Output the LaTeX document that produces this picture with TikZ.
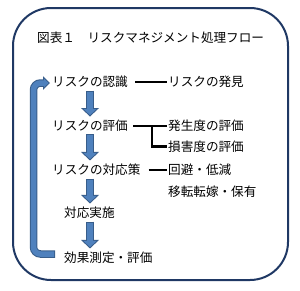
\documentclass[tikz,border=0pt]{standalone}
\usepackage{fontspec}
\newfontfamily\cjk{Noto Sans CJK JP}
\usepackage{tikz}
\usetikzlibrary{arrows.meta,calc}
\usepackage{xcolor}
\definecolor{framenavy}{RGB}{31,56,100}
\definecolor{arrfill}{RGB}{79,129,189}
\definecolor{arrline}{RGB}{56,93,138}
\tikzset{
  txt/.style={font=\cjk\fontsize{12.6pt}{15pt}\selectfont,inner sep=0pt,anchor=west},
  conn/.style={draw=black,line width=2.2pt,shorten >=1pt},
  blkout/.style={draw=arrline,line width=8.5pt,-{Triangle[width=18pt,length=8.5pt,line width=0pt]},shorten <=2.5pt,shorten >=3.5pt},
  blkin/.style={draw=arrfill,line width=6.5pt,-{Triangle[width=13pt,length=6.1pt,line width=0pt]},shorten <=3.5pt,shorten >=4.9pt},
  loopout/.style={draw=arrline,line width=7.5pt,rounded corners=7pt,-{Triangle[width=13.5pt,length=7pt,line width=0pt]}},
  loopin/.style={draw=arrfill,line width=5.5pt,rounded corners=7pt,-{Triangle[width=8.8pt,length=4.6pt,line width=0pt]},shorten <=1pt,shorten >=1.44pt},
}
\begin{document}
\begin{tikzpicture}[x=1pt,y=-1pt]
        \useasboundingbox (0,0) rectangle (300,290);
        % frame
        \draw[framenavy,line width=2pt,rounded corners=38pt] (13,8) rectangle (288,280);

        \node[txt] (title) at (37,38) {図表１　リスクマネジメント処理フロー};

        % left column
        \node[txt] (ninshiki) at (52,82) {リスクの認識};
        \node[txt] (hyoka) at (52,126) {リスクの評価};
        \node[txt] (taiosaku) at (52,170) {リスクの対応策};
        \node[txt] (jisshi) at (64,213) {対応実施};
        \node[txt] (kouka) at (64,258) {効果測定・評価};

        % right column
        \node[txt] (hakken) at (168,82) {リスクの発見};
        \node[txt] (hassei) at (168,126) {発生度の評価};
        \node[txt] (songai) at (168,146.5) {損害度の評価};
        \node[txt] (kaihi) at (168,170) {回避・低減};
        \node[txt] (iten) at (168,192) {移転転嫁・保有};

        % black links
        \draw[conn] ([xshift=7pt]ninshiki.east) -- (hakken.west);
        \draw[conn] ([xshift=5pt]hyoka.east) -- (hassei.west);
        \coordinate (brk) at ($(hyoka.east)!0.6!(hassei.west)$);
        \draw[conn] (brk) |- (songai.west);
        \draw[conn] ([xshift=8pt]taiosaku.east) -- (kaihi.west);

        % block arrows down
        \draw[blkout] (ninshiki.south) -- (hyoka.north);
        \draw[blkin] (ninshiki.south) -- (hyoka.north);
        \draw[blkout] (hyoka.south) -- (hyoka.south |- taiosaku.north);
        \draw[blkin] (hyoka.south) -- (hyoka.south |- taiosaku.north);
        \draw[blkout] (taiosaku.south -| hyoka.south) -- (hyoka.south |- jisshi.north);
        \draw[blkin] (taiosaku.south -| hyoka.south) -- (hyoka.south |- jisshi.north);
        \draw[blkout] (hyoka.south |- jisshi.south) -- (hyoka.south |- kouka.north);
        \draw[blkin] (hyoka.south |- jisshi.south) -- (hyoka.south |- kouka.north);

        % feedback loop
        \draw[loopout] ([xshift=-9pt,yshift=4pt]kouka.west) -| ([xshift=-18.5pt,yshift=-1pt]ninshiki.west) -- ([xshift=-2pt,yshift=-1pt]ninshiki.west);
        \draw[loopin] ([xshift=-9pt,yshift=4pt]kouka.west) -| ([xshift=-18.5pt,yshift=-1pt]ninshiki.west) -- ([xshift=-2pt,yshift=-1pt]ninshiki.west);
\end{tikzpicture}
\end{document}
